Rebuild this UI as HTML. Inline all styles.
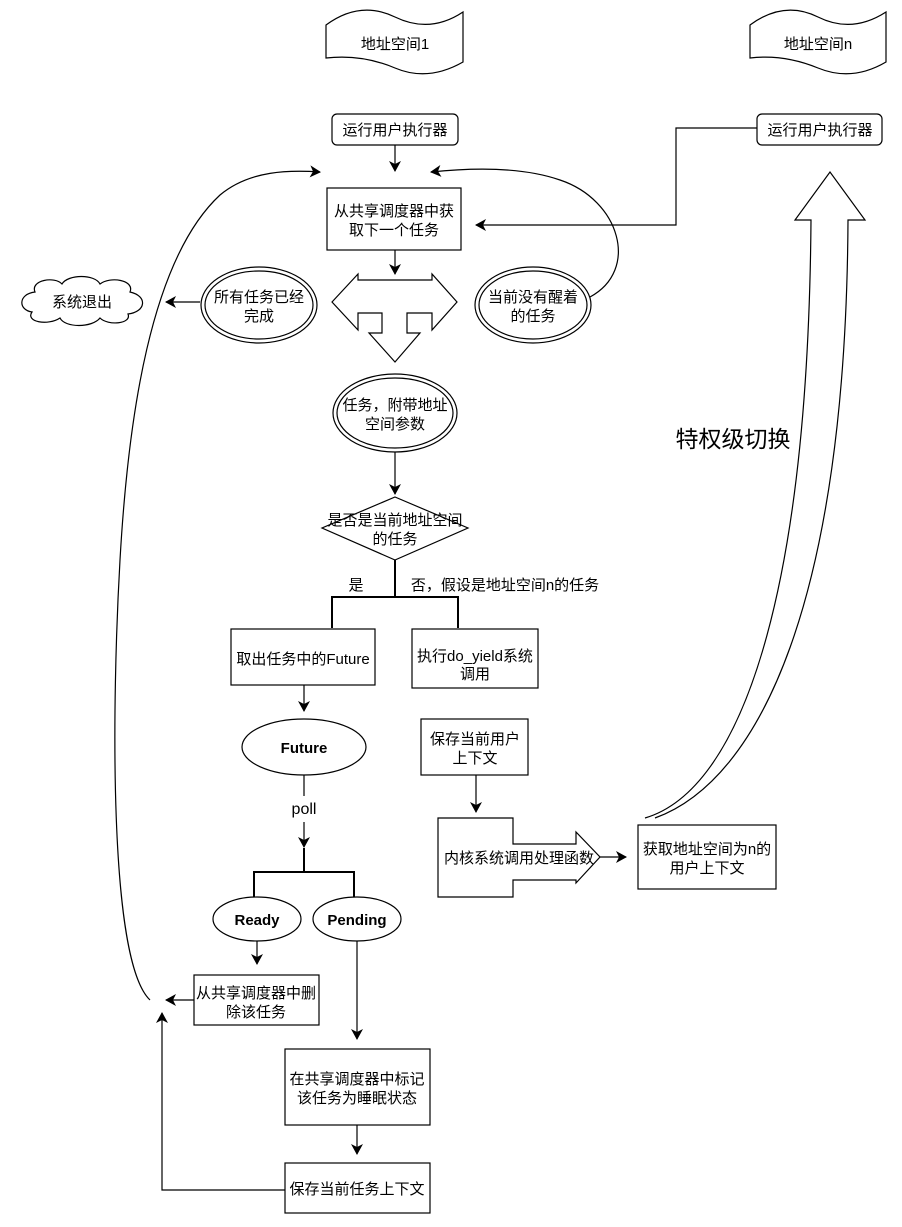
<!DOCTYPE html>
<html><head><meta charset="utf-8"><style>
html,body{margin:0;padding:0;background:#fff}
svg{display:block}
text{font-family:"Liberation Sans","Noto Sans CJK SC",sans-serif;font-size:15px;fill:#000}
</style></head><body>
<svg width="902" height="1227" viewBox="0 0 902 1227" xmlns="http://www.w3.org/2000/svg">
<defs>
<marker id="a" markerWidth="12" markerHeight="12" refX="10" refY="6" orient="auto" markerUnits="userSpaceOnUse">
<path d="M0,0 L11,6 L0,12 L3,6 Z" fill="#000"/>
</marker>
</defs>
<g fill="none" stroke="#000" stroke-width="1.2">
<path d="M326,25 Q360,0 395,17 T463,12 V62 Q428,82 395,68 T326,58 Z" fill="#fff"/>
<path d="M750,25 Q784,0 818,17 T886,12 V62 Q852,82 818,68 T750,58 Z" fill="#fff"/>
<rect x="332" y="114" width="126" height="31" rx="5" fill="#fff"/>
<rect x="757" y="114" width="125" height="31" rx="5" fill="#fff"/>
<line x1="395" y1="145" x2="395" y2="171" marker-end="url(#a)"/>
<rect x="327" y="188" width="134" height="62" fill="#fff"/>
<polyline points="757,128 676,128 676,225 476,225" marker-end="url(#a)"/>
<line x1="395" y1="250" x2="395" y2="274" marker-end="url(#a)"/>
<path d="M332,302 L358,274 L358,280 L432,280 L432,274 L457,302 L432,330 L432,313 L407,313 L407,333 L420,333 L395,362 L369,333 L382,333 L382,313 L358,313 L358,330 Z" fill="#fff"/>
<ellipse cx="259" cy="305" rx="58" ry="38"/><ellipse cx="259" cy="305" rx="54" ry="34"/>
<ellipse cx="533" cy="305" rx="58" ry="38"/><ellipse cx="533" cy="305" rx="54" ry="34"/>
<path d="M590,297 C640,270 620,200 560,180 C520,166 470,168 431,172" marker-end="url(#a)"/>
<line x1="200" y1="302" x2="166" y2="302" marker-end="url(#a)"/>
<path d="M35,292 C30,280 55,276 62,284 C68,274 95,274 100,284 C110,276 135,280 130,292 C148,296 146,312 128,314 C132,324 108,326 100,318 C92,328 65,328 60,318 C48,326 25,322 32,312 C18,310 18,294 35,292 Z" fill="#fff"/>
<ellipse cx="395" cy="413" rx="62" ry="39"/><ellipse cx="395" cy="413" rx="58" ry="35"/>
<line x1="395" y1="452" x2="395" y2="494" marker-end="url(#a)"/>
<path d="M395,497 L468,528 L395,560 L322,528 Z" fill="#fff"/>
<line x1="395" y1="560" x2="395" y2="597" stroke-width="2"/>
<polyline points="332,628 332,597 458,597 458,628" stroke-width="2"/>
<rect x="231" y="629" width="144" height="56" fill="#fff"/>
<rect x="412" y="629" width="126" height="59" fill="#fff"/>
<line x1="304" y1="685" x2="304" y2="711" marker-end="url(#a)"/>
<ellipse cx="304" cy="747" rx="62" ry="28" fill="#fff"/>
<line x1="304" y1="775" x2="304" y2="796"/>
<line x1="304" y1="822" x2="304" y2="847" marker-end="url(#a)"/>
<line x1="304" y1="848" x2="304" y2="872" stroke-width="2"/>
<polyline points="254,897 254,872 354,872 354,897" stroke-width="2"/>
<ellipse cx="257" cy="919" rx="44" ry="22" fill="#fff"/>
<ellipse cx="357" cy="919" rx="44" ry="22" fill="#fff"/>
<line x1="257" y1="941" x2="257" y2="964" marker-end="url(#a)"/>
<rect x="194" y="975" width="125" height="50" fill="#fff"/>
<line x1="194" y1="1000" x2="166" y2="1000" marker-end="url(#a)"/>
<path d="M150,1000 C108,960 112,700 120,560 C128,420 150,260 220,195 C250,170 290,170 320,172" marker-end="url(#a)"/>
<line x1="357" y1="941" x2="357" y2="1039" marker-end="url(#a)"/>
<rect x="285" y="1049" width="145" height="76" fill="#fff"/>
<line x1="357" y1="1125" x2="357" y2="1154" marker-end="url(#a)"/>
<rect x="285" y="1163" width="145" height="50" fill="#fff"/>
<polyline points="285,1190 162,1190 162,1013" marker-end="url(#a)"/>
<rect x="421" y="719" width="107" height="56" fill="#fff"/>
<line x1="476" y1="775" x2="476" y2="812" marker-end="url(#a)"/>
<path d="M438,818 L513,818 L513,844 L576,844 L576,832 L600,857 L576,883 L576,880 L513,880 L513,897 L438,897 Z" fill="#fff"/>
<line x1="600" y1="857" x2="626" y2="857" marker-end="url(#a)"/>
<rect x="638" y="825" width="138" height="64" fill="#fff"/>
<path d="M645,818 C740,790 808,600 811,220 L795,220 L830,172 L865,220 L848,220 C846,600 760,780 655,818" fill="#fff"/>
</g>
<g text-anchor="middle">
<text x="395" y="49">地址空间1</text>
<text x="818" y="49">地址空间n</text>
<text x="395" y="135">运行用户执行器</text>
<text x="820" y="135">运行用户执行器</text>
<text x="394" y="216">从共享调度器中获</text>
<text x="394" y="235">取下一个任务</text>
<text x="259" y="302">所有任务已经</text>
<text x="259" y="321">完成</text>
<text x="533" y="302">当前没有醒着</text>
<text x="533" y="321">的任务</text>
<text x="82" y="307">系统退出</text>
<text x="395" y="410">任务，附带地址</text>
<text x="395" y="429">空间参数</text>
<text x="395" y="525">是否是当前地址空间</text>
<text x="395" y="544">的任务</text>
<text x="356" y="590">是</text>
<text x="505" y="590">否，假设是地址空间n的任务</text>
<text x="303" y="664">取出任务中的Future</text>
<text x="475" y="661">执行do_yield系统</text>
<text x="475" y="679">调用</text>
<text x="304" y="753" font-weight="bold">Future</text>
<text x="304" y="814" style="font-size:16px">poll</text>
<text x="257" y="925" font-weight="bold">Ready</text>
<text x="357" y="925" font-weight="bold">Pending</text>
<text x="256" y="998">从共享调度器中删</text>
<text x="256" y="1017">除该任务</text>
<text x="357" y="1084">在共享调度器中标记</text>
<text x="357" y="1103">该任务为睡眠状态</text>
<text x="357" y="1194">保存当前任务上下文</text>
<text x="475" y="744">保存当前用户</text>
<text x="475" y="763">上下文</text>
<text x="519" y="863">内核系统调用处理函数</text>
<text x="707" y="854">获取地址空间为n的</text>
<text x="707" y="873">用户上下文</text>
<text x="733" y="447" style="font-size:23px">特权级切换</text>
</g>
</svg>
</body></html>
